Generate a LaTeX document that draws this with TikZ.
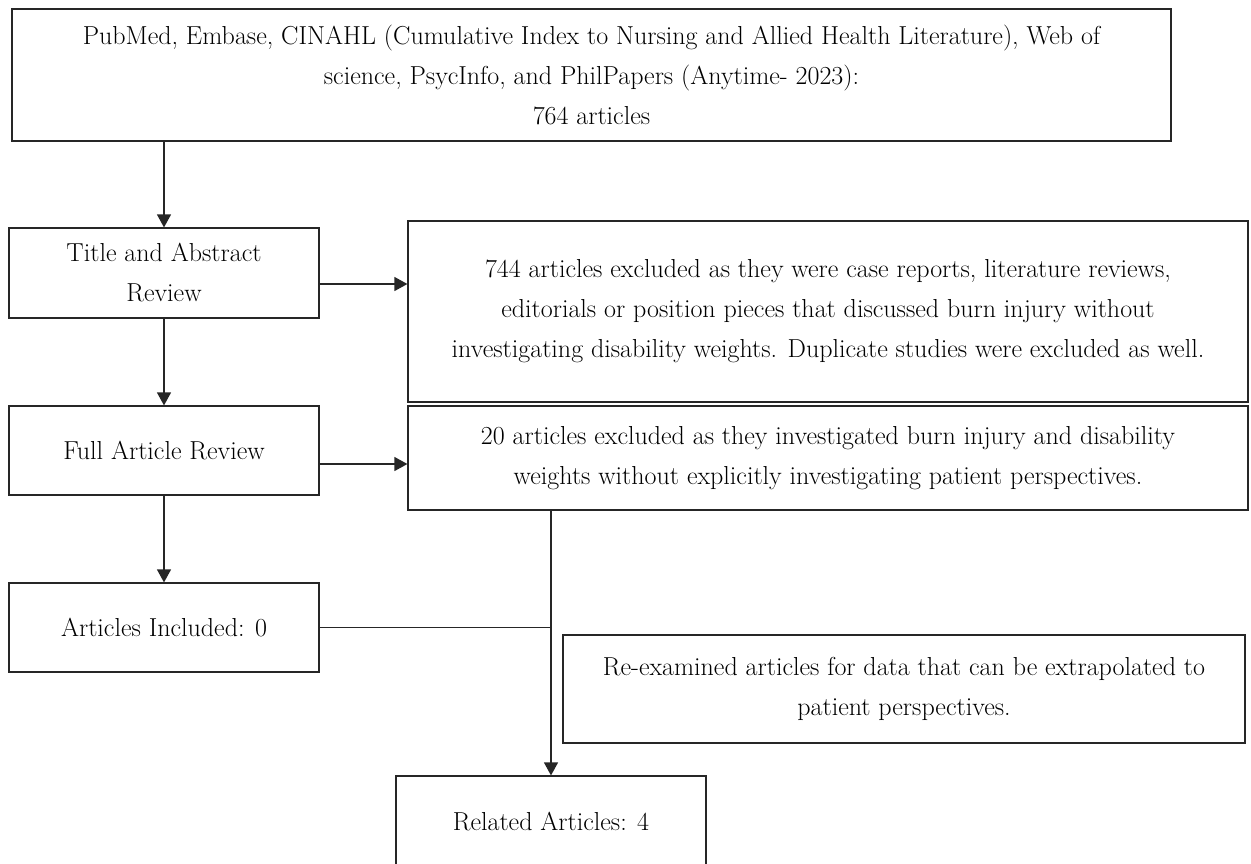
\documentclass[tikz,border=0pt]{standalone}
\usepackage{amssymb,amsmath}
\usepackage{tikz}
\usetikzlibrary{arrows.meta}

\tikzset{
  box/.style={draw=black!85, line width=1.2pt, align=center, inner sep=0pt,
    font=\fontsize{26}{40}\selectfont},
  arr/.style={-{Triangle[length=13pt,width=14pt]}, line width=1.2pt, draw=black!85}
}

\begin{document}
\begin{tikzpicture}[x=1pt,y=-1pt]
                \useasboundingbox (0,0) rectangle (1251,863);
                \node[box, minimum width=1159pt, minimum height=132pt] (src) at (591.5,75)
                  {PubMed, Embase, CINAHL (Cumulative Index to Nursing and Allied Health Literature), Web of\\
                   science, PsycInfo, and PhilPapers (Anytime- 2023):\\ 764 articles};
                \node[box, minimum width=310pt, minimum height=90pt] (title) at (164,273) {Title and Abstract\\ Review};
                \node[box, minimum width=310pt, minimum height=89pt] (full) at (164,450.5) {Full Article Review};
                \node[box, minimum width=310pt, minimum height=89pt] (incl) at (164,627.5) {Articles Included: 0};
                \node[box, minimum width=840pt, minimum height=181pt] (excl1) at (828,311.5)
                  {744 articles excluded as they were case reports, literature reviews,\\
                   editorials or position pieces that discussed burn injury without\\
                   investigating disability weights. Duplicate studies were excluded as well.};
                \node[box, minimum width=840pt, minimum height=104pt] (excl2) at (828,458)
                  {20 articles excluded as they investigated burn injury and disability\\
                   weights without explicitly investigating patient perspectives.};
                \node[box, minimum width=682pt, minimum height=108pt] (reexam) at (904,689)
                  {Re-examined articles for data that can be extrapolated to\\ patient perspectives.};
                \node[box, minimum width=310pt, minimum height=92pt] (related) at (551,822) {Related Articles: 4};
                \coordinate (join) at (incl.east -| related.north);
                \draw[arr] (title.north |- src.south) -- (title.north);
                \draw[arr] (title.south) -- (full.north);
                \draw[arr] (full.south) -- (incl.north);
                \draw[arr] (title.east |- 0,284) -- (excl1.west |- 0,284);
                \draw[arr] (full.east |- 0,464) -- (excl2.west |- 0,464);
                \draw[line width=1.2pt, draw=black!85] (incl.east) -- (join);
                \draw[arr] (excl2.south -| related.north) -- (related.north);
            \end{tikzpicture}
\end{document}
